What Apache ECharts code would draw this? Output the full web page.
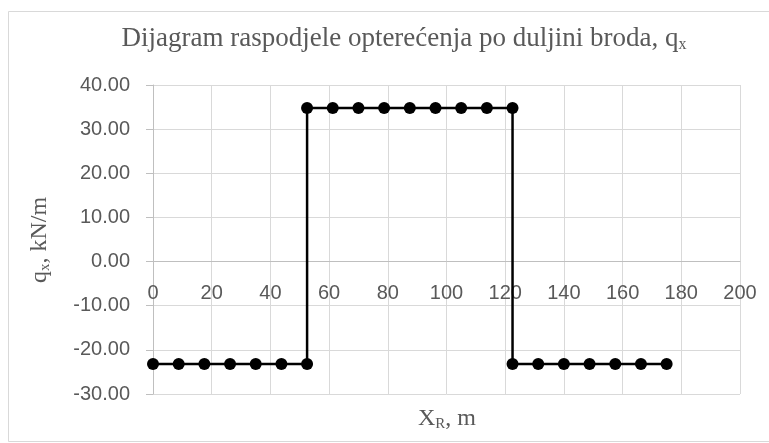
<!DOCTYPE html>
<html><head><meta charset="utf-8">
<script src="https://cdn.jsdelivr.net/npm/echarts@6/dist/echarts.min.js"></script>
<style>html,body{margin:0;padding:0;background:#fff}#c{width:769px;height:443px}</style>
</head><body><div id="c"></div>
<script>
const xValues = [0, 8.75, 17.5, 26.25, 35, 43.75, 52.5,
  52.5, 61.25, 70, 78.75, 87.5, 96.25, 105, 113.75, 122.5,
  122.5, 131.25, 140, 148.75, 157.5, 166.25, 175];
const qValues = [-23.2, -23.2, -23.2, -23.2, -23.2, -23.2, -23.2,
  34.8, 34.8, 34.8, 34.8, 34.8, 34.8, 34.8, 34.8, 34.8,
  -23.2, -23.2, -23.2, -23.2, -23.2, -23.2, -23.2];
const yTicks = [-30, -20, -10, 0, 10, 20, 30, 40];
const xTicks = [0, 20, 40, 60, 80, 100, 120, 140, 160, 180, 200];

const chart = echarts.init(document.getElementById('c'), null, {renderer: 'canvas'});
const serif = '"Liberation Serif", "Times New Roman", serif';
const sans = '"Liberation Sans", Arial, sans-serif';
const grey = '#595959';
chart.setOption({
  animation: false,
  backgroundColor: '#fff',
  title: {
    text: 'Dijagram raspodjele opterećenja po duljini broda, q{sub|x}',
    left: 404, top: 25, textAlign: 'center', padding: 0,
    textStyle: {
      fontFamily: serif, fontSize: 27, fontWeight: 'normal', color: grey,
      rich: { sub: { fontFamily: serif, fontSize: 16, color: grey, padding: [12, 0, 0, 0] } }
    }
  },
  grid: { left: 153, right: 29, top: 85, bottom: 49 },
  xAxis: {
    type: 'value', min: xTicks[0], max: xTicks[xTicks.length - 1], interval: 20,
    axisLine: { onZero: true, lineStyle: { color: '#bfbfbf', width: 1 } },
    axisTick: { show: false },
    splitLine: { show: true, lineStyle: { color: '#d9d9d9', width: 1 } },
    axisLabel: { color: grey, fontFamily: sans, fontSize: 20, margin: -111 }
  },
  yAxis: {
    type: 'value', min: yTicks[0], max: yTicks[yTicks.length - 1], interval: 10,
    axisLine: { show: true, onZero: false, lineStyle: { color: '#bfbfbf', width: 1 } },
    axisTick: { show: true, length: 7, lineStyle: { color: '#bfbfbf' } },
    splitLine: { show: true, lineStyle: { color: '#d9d9d9', width: 1 } },
    axisLabel: { color: grey, fontFamily: sans, fontSize: 20, margin: 23,
      formatter: v => v.toFixed(2) }
  },
  graphic: [
    { type: 'rect', left: 6, top: 9, shape: { width: 761, height: 430 },
      style: { fill: 'none', stroke: '#d9d9d9', lineWidth: 1 }, silent: true, z: -1 },
    { type: 'text', x: 40, y: 240, rotation: Math.PI / 2,
      style: { text: 'q{sub|x}, kN/m', font: '24px ' + serif, fill: grey,
        align: 'center', verticalAlign: 'middle',
        rich: { sub: { fontFamily: serif, fontSize: 15, fill: grey, padding: [11, 0, 0, 0] } } } },
    { type: 'text', x: 447, y: 419,
      style: { text: 'X{sub|R}, m', font: '24px ' + serif, fill: grey,
        align: 'center', verticalAlign: 'middle',
        rich: { sub: { fontFamily: serif, fontSize: 15, fill: grey, padding: [11, 0, 0, 0] } } } }
  ],
  series: [{
    type: 'line',
    data: xValues.map((x, i) => [x, qValues[i]]),
    lineStyle: { color: '#000', width: 2.5 },
    itemStyle: { color: '#000' },
    symbol: 'circle', symbolSize: 12,
    z: 5
  }]
});
</script></body></html>
